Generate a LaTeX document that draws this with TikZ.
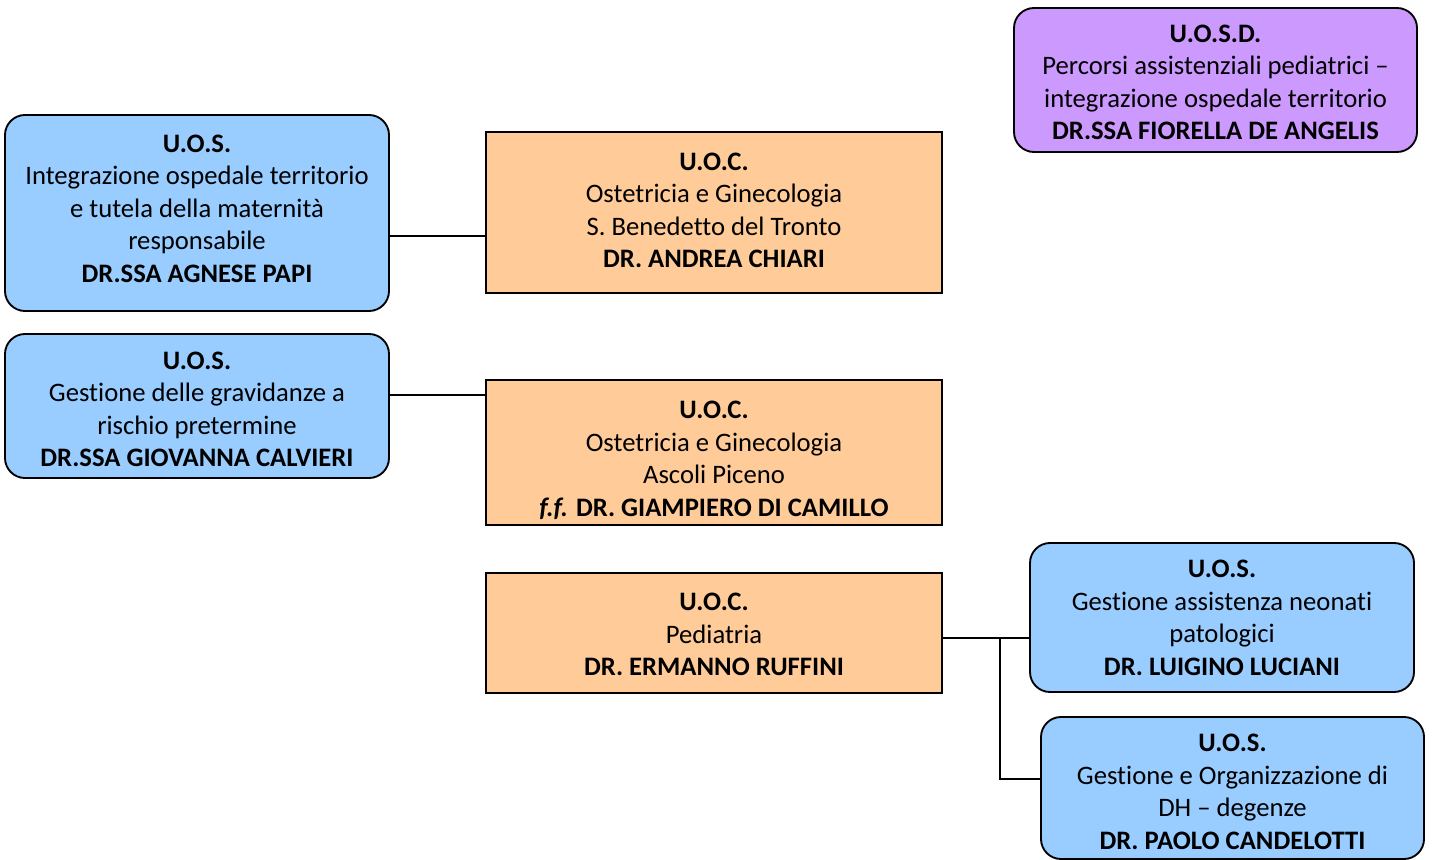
\documentclass[tikz,border=0pt]{standalone}
\usepackage{fontspec}
\setmainfont{Carlito}[Ligatures={NoCommon}]
\definecolor{uosblue}{RGB}{153,204,255}
\definecolor{uocorange}{RGB}{255,204,153}
\definecolor{uosdpurple}{RGB}{204,153,255}
\begin{document}
\begin{tikzpicture}[x=0.75pt,y=-0.75pt,
  box/.style={draw=black, line width=1.4pt, inner sep=0pt},
  txt/.style={align=center, inner sep=0pt, font=\fontsize{20}{24.4}\selectfont},
  uos/.style={box, fill=uosblue, rounded corners=15pt},
  uoc/.style={box, fill=uocorange},
  uosd/.style={box, fill=uosdpurple, rounded corners=15pt},
  link/.style={draw=black, line width=1.1pt}]
\useasboundingbox (0,0) rectangle (1435,860);

\node[uosd, minimum width=403*0.75pt, minimum height=144*0.75pt] (uosd) at (1215.5,80) {};
\node[txt] (uosdt) at ([yshift=-2.5*0.75pt]uosd.center)
  {\textbf{U.O.S.D.}\\Percorsi assistenziali pediatrici –\\integrazione ospedale territorio\\\textbf{DR.SSA FIORELLA DE ANGELIS}};

\node[uos, minimum width=384*0.75pt, minimum height=196*0.75pt] (uos1) at (197,213) {};
\node[txt] (uos1t) at ([yshift=4.5*0.75pt]uos1.center)
  {\textbf{U.O.S.}\\Integrazione ospedale territorio\\e tutela della maternità\\responsabile\\\textbf{DR.SSA AGNESE PAPI}};

\node[uoc, minimum width=456*0.75pt, minimum height=161*0.75pt] (uoc1) at (714,212.5) {};
\node[txt] (uoc1t) at ([yshift=2*0.75pt]uoc1.center)
  {\textbf{U.O.C.}\\Ostetricia e Ginecologia\\S. Benedetto del Tronto\\\textbf{DR. ANDREA CHIARI}};

\node[uos, minimum width=384*0.75pt, minimum height=144*0.75pt] (uos2) at (197,406) {};
\node[txt] (uos2t) at ([yshift=-3.5*0.75pt]uos2.center)
  {\textbf{U.O.S.}\\Gestione delle gravidanze a\\rischio pretermine\\\textbf{DR.SSA GIOVANNA CALVIERI}};

\node[uoc, minimum width=456*0.75pt, minimum height=145*0.75pt] (uoc2) at (714,452.5) {};
\node[txt] (uoc2t) at ([yshift=-8*0.75pt]uoc2.center)
  {\textbf{U.O.C.}\\Ostetricia e Ginecologia\\Ascoli Piceno\\\textbf{\textit{f.f.} DR. GIAMPIERO DI CAMILLO}};

\node[uoc, minimum width=456*0.75pt, minimum height=120*0.75pt] (uoc3) at (714,633) {};
\node[txt] (uoc3t) at ([yshift=-1.5*0.75pt]uoc3.center)
  {\textbf{U.O.C.}\\Pediatria\\\textbf{DR. ERMANNO RUFFINI}};

\node[uos, minimum width=384*0.75pt, minimum height=149*0.75pt] (uos3) at (1222,617.5) {};
\node[txt] (uos3t) at ([yshift=-0.5*0.75pt]uos3.center)
  {\textbf{U.O.S.}\\Gestione assistenza neonati\\patologici\\\textbf{DR. LUIGINO LUCIANI}};

\node[uos, minimum width=383*0.75pt, minimum height=142*0.75pt] (uos4) at (1232.5,788) {};
\node[txt] (uos4t) at ([yshift=-4*0.75pt]uos4.center)
  {\textbf{U.O.S.}\\Gestione e Organizzazione di\\DH – degenze\\\textbf{DR. PAOLO CANDELOTTI}};

\coordinate (j1) at (1000,638);
\draw[link] (uos1.east |- 0,236) -- (uoc1.west |- 0,236);
\draw[link] (uos2.east |- 0,395) -- (uoc2.west |- 0,395);
\draw[link] (uoc3.east |- j1) -- (uos3.west |- j1);
\draw[link] (j1) -- (j1 |- 0,779) -- (uos4.west |- 0,779);
\end{tikzpicture}
\end{document}
